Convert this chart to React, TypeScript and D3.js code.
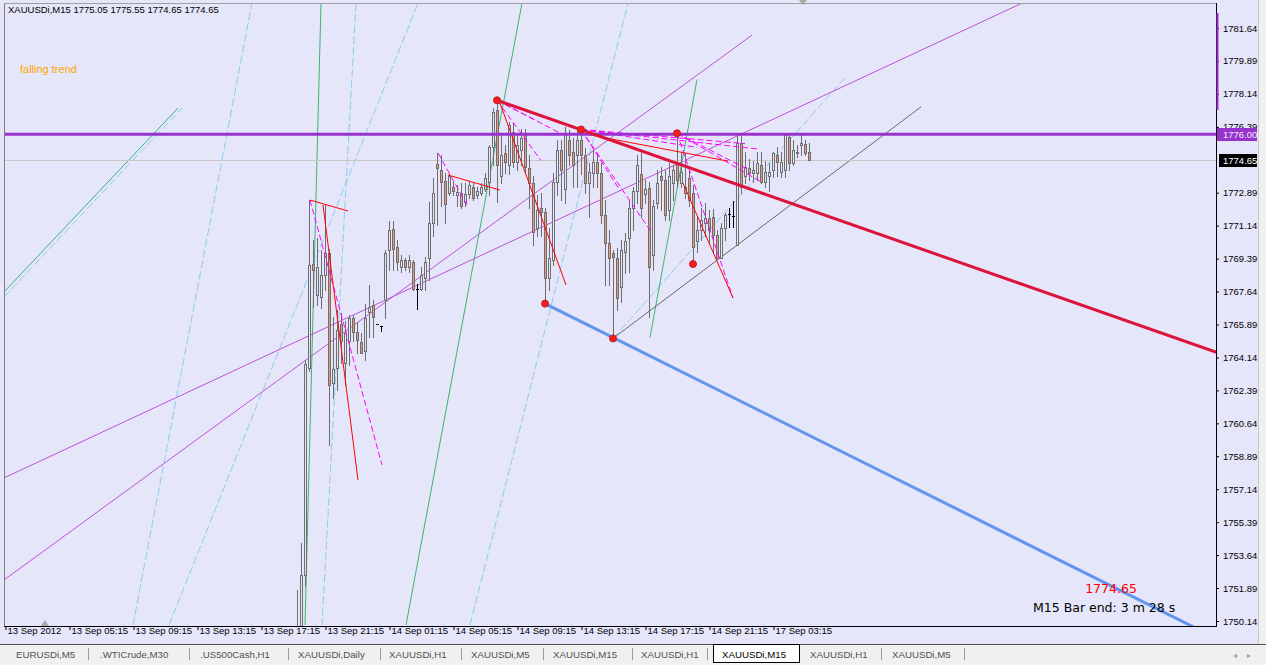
import React, { useEffect, useRef } from 'react';
import * as d3 from 'd3';

// XAUUSDi M15 bars, index of the first visible bar on the time axis
const firstBar = 73;

const opens = [
  1748.5, 1749.8, 1752.6, 1763.6, 1769.1, 1767.45, 1767.35, 1768.5, 1769.7, 1762.8,
  1763.6, 1765.9, 1763.85, 1765.0, 1766.25, 1765.5, 1764.95, 1764.5, 1766.55, 1766.9,
  1765.9, 1765.8, 1767.2, 1769.85, 1770.95, 1770.0, 1768.95, 1769.3, 1768.95, 1769.2,
  1767.8, 1767.8, 1768.35, 1769.4, 1771.3, 1774.4, 1774.1, 1773.5, 1772.9, 1773.2,
  1772.75, 1772.85, 1772.4, 1772.8, 1773.2, 1772.75, 1772.9, 1773.1, 1773.45, 1775.3,
  1777.3, 1773.8, 1775.0, 1774.35, 1776.1, 1774.5, 1775.15, 1775.95, 1774.2, 1773.4,
  1771.0, 1772.1, 1771.85, 1768.35, 1769.3, 1773.45, 1775.15, 1773.1, 1775.7, 1775.05,
  1774.9, 1775.7, 1774.9, 1773.4, 1773.95, 1774.5, 1773.95, 1771.7, 1770.2, 1769.7,
  1769.4, 1767.9, 1769.75, 1770.5, 1772.1, 1773.0, 1773.9, 1772.8, 1773.15, 1769.6,
  1772.35, 1773.8, 1773.55, 1771.95, 1773.4, 1774.45, 1773.4, 1773.2, 1773.65, 1772.9,
  1770.3, 1770.9, 1771.3, 1771.55, 1771.6, 1770.65, 1769.4, 1771.0, 1771.75, 1771.65,
  1770.1, 1775.55, 1773.8, 1774.2, 1773.95, 1773.95, 1774.35, 1773.45, 1773.8, 1774.1,
  1774.9, 1774.0, 1774.1, 1775.85, 1774.45, 1775.0, 1775.4, 1775.5, 1775.05,
];
const highs = [
  1751.8, 1754.3, 1764.0, 1772.5, 1770.4, 1770.5, 1769.85, 1772.3, 1769.9, 1766.3,
  1766.65, 1766.5, 1766.1, 1766.4, 1766.4, 1766.0, 1765.45, 1767.0, 1768.0, 1767.2,
  1765.9, 1765.8, 1769.85, 1771.4, 1771.4, 1770.4, 1769.6, 1769.4, 1769.6, 1769.3,
  1768.05, 1768.95, 1769.45, 1772.4, 1773.65, 1775.0, 1774.9, 1773.95, 1773.95, 1773.45,
  1773.3, 1773.4, 1773.4, 1773.5, 1773.4, 1773.2, 1773.4, 1773.95, 1775.4, 1777.4,
  1777.8, 1775.95, 1775.4, 1776.65, 1776.6, 1776.05, 1776.3, 1776.3, 1774.9, 1773.8,
  1772.75, 1772.9, 1772.1, 1771.0, 1773.95, 1775.7, 1775.7, 1776.4, 1776.2, 1775.8,
  1776.2, 1776.3, 1775.25, 1774.45, 1775.15, 1775.0, 1774.45, 1772.5, 1770.9, 1769.85,
  1769.95, 1770.4, 1770.75, 1772.5, 1773.2, 1774.9, 1775.0, 1773.55, 1773.45, 1772.5,
  1774.1, 1774.25, 1774.1, 1774.45, 1774.35, 1776.05, 1775.0, 1775.0, 1774.1, 1773.3,
  1771.6, 1772.1, 1772.35, 1771.95, 1772.05, 1770.9, 1771.3, 1771.8, 1772.1, 1772.45,
  1776.05, 1776.05, 1775.05, 1774.7, 1774.6, 1775.05, 1775.05, 1774.6, 1774.45, 1775.05,
  1775.3, 1775.05, 1776.05, 1776.05, 1775.7, 1775.4, 1776.05, 1775.7, 1775.55,
];
const lows = [
  1747.5, 1749.0, 1752.0, 1763.4, 1766.8, 1766.9, 1766.75, 1767.7, 1759.5, 1762.0,
  1762.4, 1763.85, 1762.7, 1763.75, 1765.0, 1764.4, 1764.35, 1764.0, 1765.2, 1765.2,
  1765.9, 1765.55, 1766.25, 1768.8, 1768.8, 1768.8, 1768.7, 1768.8, 1768.7, 1767.7,
  1766.7, 1767.7, 1767.7, 1768.25, 1770.6, 1771.2, 1772.2, 1771.3, 1772.75, 1772.75,
  1772.2, 1772.1, 1772.2, 1772.6, 1772.5, 1772.6, 1772.75, 1773.0, 1772.75, 1774.35,
  1772.4, 1773.4, 1773.95, 1773.9, 1774.25, 1774.1, 1774.35, 1773.95, 1772.1, 1770.1,
  1770.6, 1770.6, 1767.0, 1767.7, 1769.05, 1772.75, 1772.5, 1772.35, 1774.35, 1773.2,
  1773.2, 1773.9, 1772.9, 1771.6, 1773.2, 1773.2, 1771.3, 1768.0, 1768.0, 1765.15,
  1766.65, 1767.1, 1768.6, 1768.7, 1770.9, 1772.35, 1771.6, 1772.35, 1766.3, 1768.8,
  1772.1, 1771.95, 1771.45, 1771.45, 1772.5, 1773.2, 1773.2, 1772.6, 1772.2, 1769.1,
  1769.75, 1770.4, 1770.6, 1770.2, 1769.7, 1769.4, 1769.4, 1770.4, 1771.05, 1771.05,
  1770.1, 1772.9, 1773.4, 1773.55, 1773.45, 1773.55, 1773.4, 1773.2, 1773.0, 1773.7,
  1773.8, 1773.7, 1773.7, 1774.1, 1774.35, 1774.8, 1774.9, 1774.9, 1774.65,
];
const closes = [
  1749.8, 1752.6, 1763.8, 1769.05, 1768.8, 1768.95, 1768.5, 1769.7, 1762.7, 1763.5,
  1765.6, 1765.0, 1765.45, 1766.25, 1765.5, 1765.05, 1764.4, 1766.25, 1766.8, 1766.3,
  1765.9, 1765.8, 1769.7, 1770.9, 1769.9, 1769.2, 1769.3, 1768.95, 1769.3, 1767.8,
  1767.8, 1768.5, 1769.2, 1771.3, 1772.9, 1774.2, 1773.45, 1772.3, 1773.8, 1773.0,
  1772.95, 1772.2, 1772.8, 1773.3, 1772.6, 1773.0, 1773.2, 1773.65, 1775.3, 1777.2,
  1774.35, 1774.9, 1774.5, 1776.5, 1774.5, 1775.4, 1775.8, 1774.25, 1773.4, 1770.8,
  1771.95, 1771.85, 1768.35, 1769.4, 1773.45, 1775.15, 1774.1, 1776.05, 1774.9, 1774.35,
  1775.7, 1774.9, 1773.4, 1774.0, 1774.5, 1773.95, 1771.7, 1770.2, 1769.4, 1769.45,
  1767.3, 1769.85, 1770.3, 1772.1, 1773.0, 1774.35, 1772.1, 1773.1, 1768.95, 1772.2,
  1773.4, 1773.55, 1771.7, 1773.8, 1774.1, 1773.55, 1774.0, 1772.9, 1772.5, 1770.0,
  1770.9, 1771.45, 1771.55, 1770.9, 1770.65, 1769.4, 1771.0, 1771.7, 1771.75, 1771.65,
  1775.55, 1773.2, 1774.25, 1773.95, 1774.1, 1774.45, 1773.45, 1774.0, 1774.0, 1775.0,
  1774.5, 1774.5, 1775.95, 1774.45, 1775.15, 1775.05, 1775.55, 1775.0, 1774.65,
];

const priceTicks = [
  1781.64, 1779.89, 1778.14, 1776.39, 1772.89, 1771.14, 1769.39, 1767.64, 1765.89,
  1764.14, 1762.39, 1760.64, 1758.89, 1757.14, 1755.39, 1753.64, 1751.89, 1750.14,
];
const timeTickBars = [0, 16, 32, 48, 64, 80, 96, 112, 128, 144, 160, 176, 192];
const timeLabels = [
  '13 Sep 2012', '13 Sep 05:15', '13 Sep 09:15', '13 Sep 13:15', '13 Sep 17:15',
  '13 Sep 21:15', '14 Sep 01:15', '14 Sep 05:15', '14 Sep 09:15', '14 Sep 13:15',
  '14 Sep 17:15', '14 Sep 21:15', '17 Sep 03:15',
];

const levelPrice = 1776.0;
const bidPrice = 1774.65;
const headerText = 'XAUUSDi,M15  1775.05 1775.55 1774.65 1774.65';
const timerText = 'M15 Bar end: 3 m 28 s';
const tabs = [
  'EURUSDi,M5', '.WTICrude,M30', '.US500Cash,H1', 'XAUUSDi,Daily', 'XAUUSDi,H1',
  'XAUUSDi,M5', 'XAUUSDi,M15', 'XAUUSDi,H1', 'XAUUSDi,M15', 'XAUUSDi,H1', 'XAUUSDi,M5',
];
const activeTab = 8;

// swing points [bar, price]
const swingPoints: [number, number][] = [
  [123, 1777.8], [144, 1776.25], [168, 1776.05], [135, 1767.0], [152, 1765.15], [172, 1769.1],
];

type Seg = [number, number][];
const mainTrend: Seg = [[123, 1777.8], [303, 1764.4]];
const lowerTrend: Seg = [[135, 1767.0], [303, 1749.2]];
const grayTrend: Seg = [[152, 1765.15], [229, 1777.45]];
const purpleLines: Seg[] = [
  [[-0.25, 1757.74], [254.25, 1782.96]],
  [[-0.25, 1752.32], [186.75, 1781.26]],
];
const greenLines: Seg[] = [
  [[79, 1782.96], [75, 1749.93]],
  [[-0.25, 1767.62], [43.25, 1777.39]],
  [[100.25, 1749.93], [129.25, 1782.96]],
  [[161.25, 1765.2], [173, 1778.9]],
];
const cyanLines: Seg[] = [
  [[87.75, 1782.96], [79.25, 1749.93]],
  [[-0.25, 1767.35], [44.25, 1777.39]],
  [[32, 1749.93], [61.75, 1782.96]],
  [[116.25, 1749.93], [155.75, 1782.96]],
  [[41, 1749.93], [103.25, 1782.96]],
  [[152, 1765.15], [210, 1779.0]],
];
const magentaLines: Seg[] = [
  [[76.25, 1772.5], [94.25, 1758.43]],
  [[108.25, 1775.0], [115.5, 1772.24]],
  [[123, 1777.8], [138.75, 1776.06]],
  [[123, 1777.8], [133, 1776.7]],
  [[123, 1777.8], [134, 1774.6]],
  [[144, 1776.25], [188.75, 1775.2]],
  [[144, 1776.25], [185, 1775.5]],
  [[144, 1776.25], [173, 1775.3]],
  [[144, 1776.25], [153.75, 1773.0]],
  [[144, 1776.25], [161.25, 1770.9]],
  [[168, 1776.05], [188.75, 1773.5]],
  [[168, 1776.05], [186, 1774.1]],
  [[168, 1776.05], [182, 1767.3]],
];
const redLines: Seg[] = [
  [[76.25, 1772.5], [85.75, 1771.92]],
  [[79.5, 1772.24], [88.25, 1757.63]],
  [[110.75, 1773.83], [123.75, 1773.03]],
  [[123.75, 1777.65], [140.25, 1767.99]],
  [[143.75, 1776.06], [180.75, 1774.57]],
  [[169.5, 1773.4], [182, 1767.3]],
];

const uiFont = "'Liberation Sans', Arial, sans-serif";

export default function App() {
  const svgRef = useRef<SVGSVGElement>(null);

  useEffect(() => {
    if (!svgRef.current) return;
    const svg = d3.select(svgRef.current);
    svg.selectAll('*').remove();

    const left = 4, top = 3, right = 1216, bottom = 626;

    const x = d3.scaleLinear().domain([0, 1]).range([5, 9]);
    const y = d3.scaleLinear().domain([1750.14, 1781.64]).range([621, 28]);

    // window backgrounds
    svg.append('rect').attr('width', 1266).attr('height', 665).attr('fill', '#f0f0f0');
    svg.append('rect').attr('x', 0).attr('y', 0).attr('width', 1258).attr('height', 644).attr('fill', '#e6e6fa');
    svg.append('line').attr('x1', 1258.5).attr('x2', 1258.5).attr('y1', 0).attr('y2', 644).attr('stroke', '#c8c8c8');

    svg.append('clipPath').attr('id', 'plot')
      .append('rect').attr('x', left).attr('y', top).attr('width', right - left).attr('height', bottom - top);

    const plot = svg.append('g').attr('clip-path', 'url(#plot)');

    const line = d3.line<[number, number]>().x(d => x(d[0])).y(d => y(d[1]));

    const drawSegs = (segs: Seg[], color: string, width: number, dash?: string) => {
      plot.append('g').selectAll('path').data(segs).join('path')
        .attr('d', d => line(d))
        .attr('fill', 'none')
        .attr('stroke', color)
        .attr('stroke-width', width)
        .attr('stroke-dasharray', dash ?? null);
    };

    // background objects
    drawSegs(cyanLines, '#87ceeb', 1, '8,3');
    drawSegs(greenLines, '#3cb371', 1);
    drawSegs(purpleLines, '#ba55d3', 1);
    drawSegs([grayTrend], '#696969', 1);

    // bid line
    plot.append('line').attr('x1', left).attr('x2', right)
      .attr('y1', Math.round(y(bidPrice)) + 0.5).attr('y2', Math.round(y(bidPrice)) + 0.5)
      .attr('stroke', '#c8c8c8');

    // candles
    const candles = plot.append('g').attr('shape-rendering', 'crispEdges');
    opens.forEach((o, k) => {
      const c = closes[k], h = highs[k], l = lows[k];
      const cx = Math.round(x(firstBar + k));
      if (o === c) {
        // doji bars use the line colour
        candles.append('line').attr('x1', cx + 0.5).attr('x2', cx + 0.5)
          .attr('y1', y(h)).attr('y2', y(l) + 1).attr('stroke', '#000');
        candles.append('line').attr('x1', cx - 1).attr('x2', cx + 2)
          .attr('y1', Math.round(y(o)) + 0.5).attr('y2', Math.round(y(o)) + 0.5).attr('stroke', '#000');
        return;
      }
      candles.append('line').attr('x1', cx + 0.5).attr('x2', cx + 0.5)
        .attr('y1', Math.round(y(h))).attr('y2', Math.round(y(l)) + 1).attr('stroke', '#6e6e6e');
      const yt = Math.round(y(Math.max(o, c)));
      const yb = Math.round(y(Math.min(o, c)));
      candles.append('rect')
        .attr('x', cx - 0.5).attr('y', yt + 0.5)
        .attr('width', 2).attr('height', Math.max(1, yb - yt))
        .attr('fill', c < o ? '#e9967a' : '#e6e6fa')
        .attr('stroke', '#6e6e6e');
    });

    // foreground objects
    drawSegs(magentaLines, '#ff00ff', 1, '6,3');
    drawSegs(redLines, '#ff0000', 1);
    plot.append('line').attr('x1', left).attr('x2', right)
      .attr('y1', y(levelPrice)).attr('y2', y(levelPrice))
      .attr('stroke', '#9932cc').attr('stroke-width', 3);
    drawSegs([mainTrend], '#dc143c', 3);
    drawSegs([lowerTrend], '#6495ed', 3);

    plot.append('g').selectAll('circle').data(swingPoints).join('circle')
      .attr('cx', d => x(d[0])).attr('cy', d => y(d[1])).attr('r', 3.5)
      .attr('fill', '#ff1a1a').attr('stroke', '#b22222').attr('stroke-width', 1);

    // texts in the plot
    svg.append('text').attr('x', 8).attr('y', 13).attr('font-family', uiFont).attr('font-size', 9.5)
      .attr('fill', '#000').text(headerText);
    svg.append('text').attr('x', 20).attr('y', 73).attr('font-family', uiFont).attr('font-size', 11)
      .attr('fill', '#ffa500').text('falling trend');
    svg.append('text').attr('x', 1111).attr('y', 593).attr('text-anchor', 'middle')
      .attr('font-family', "'DejaVu Sans', sans-serif").attr('font-size', 12.5)
      .attr('fill', '#ff0000').text(d3.format('.2f')(bidPrice));
    svg.append('text').attr('x', 1033).attr('y', 612)
      .attr('font-family', "'DejaVu Sans', sans-serif").attr('font-size', 12.5)
      .attr('fill', '#000').text(timerText);

    // chart shift markers
    svg.append('path').attr('d', 'M799,0 L807,0 L803,5 Z').attr('fill', '#a9a9a9');
    svg.append('path').attr('d', 'M41,626 L49,626 L45,620 Z').attr('fill', '#a9a9a9');

    // frame
    svg.append('line').attr('x1', left + 0.5).attr('x2', left + 0.5).attr('y1', top).attr('y2', bottom)
      .attr('stroke', '#808080');
    svg.append('line').attr('x1', left).attr('x2', right).attr('y1', top + 0.5).attr('y2', top + 0.5)
      .attr('stroke', '#a0a0a0');

    // price axis
    const yAxis = svg.append('g').attr('transform', `translate(${right},0)`)
      .call(d3.axisRight(y).tickValues(priceTicks).tickFormat(d3.format('.2f')).tickSize(3).tickPadding(4));
    yAxis.select('.domain').remove();
    yAxis.selectAll('text').attr('font-family', uiFont).attr('font-size', 9.5).attr('fill', '#000');
    yAxis.selectAll('line').attr('stroke', '#000');
    svg.append('line').attr('x1', right + 0.5).attr('x2', right + 0.5).attr('y1', top).attr('y2', bottom + 1)
      .attr('stroke', '#000');

    // purple bar at the scale
    svg.append('line').attr('x1', right + 1.5).attr('x2', right + 1.5).attr('y1', 13).attr('y2', 110)
      .attr('stroke', '#9932cc').attr('stroke-width', 2);

    // axis price boxes
    const box = (price: number, bg: string, fg: string, x0: number) => {
      const yy = Math.round(y(price));
      svg.append('rect').attr('x', x0).attr('y', yy - 6).attr('width', 1257 - x0).attr('height', 13).attr('fill', bg);
      svg.append('text').attr('x', 1223).attr('y', yy + 4).attr('font-family', uiFont).attr('font-size', 9.5)
        .attr('fill', fg).text(d3.format('.2f')(price));
    };
    box(levelPrice, '#9932cc', '#f0f0ff', 1217);
    box(bidPrice, '#000', '#fff', 1219);

    // time axis
    const xAxis = svg.append('g').attr('transform', `translate(0,${bottom})`)
      .call(d3.axisBottom(x).tickValues(timeTickBars).tickFormat((_, i) => timeLabels[i]).tickSize(4).tickPadding(2));
    xAxis.select('.domain').remove();
    xAxis.selectAll('line').attr('stroke', '#000').attr('transform', 'translate(0.5,0)');
    xAxis.selectAll('text').attr('text-anchor', 'start').attr('dx', 2).attr('dy', '0.45em')
      .attr('y', 4).attr('font-family', uiFont).attr('font-size', 9.5).attr('fill', '#000');
    svg.append('line').attr('x1', left).attr('x2', right + 1).attr('y1', bottom + 0.5).attr('y2', bottom + 0.5)
      .attr('stroke', '#000');

    // tab strip
    svg.append('line').attr('x1', 0).attr('x2', 1266).attr('y1', 644.5).attr('y2', 644.5).attr('stroke', '#505050');
    const tabX = [16, 100, 200, 298, 389, 471, 553, 641, 722, 810, 892];
    const sepX = [88, 189, 288, 380, 461, 543, 632, 707, 881, 964];
    svg.append('rect').attr('x', 713.5).attr('y', 644.5).attr('width', 86).attr('height', 18)
      .attr('fill', '#fff').attr('stroke', '#000');
    sepX.forEach(sx => {
      svg.append('line').attr('x1', sx + 0.5).attr('x2', sx + 0.5).attr('y1', 648).attr('y2', 660).attr('stroke', '#9a9a9a');
    });
    tabs.forEach((t, i) => {
      svg.append('text').attr('x', tabX[i]).attr('y', 658)
        .attr('font-family', uiFont).attr('font-size', 9.7)
        .attr('fill', i === activeTab ? '#000' : '#505050').text(t);
    });
    svg.append('text').attr('x', 1233).attr('y', 658).attr('font-size', 8).attr('fill', '#a0a0a0').text('◂');
    svg.append('text').attr('x', 1247).attr('y', 658).attr('font-size', 8).attr('fill', '#a0a0a0').text('▸');
  }, []);

  return (
    <svg ref={svgRef} width={1266} height={665}
      style={{ position: 'absolute', left: 0, top: 0, display: 'block' }} />
  );
}
